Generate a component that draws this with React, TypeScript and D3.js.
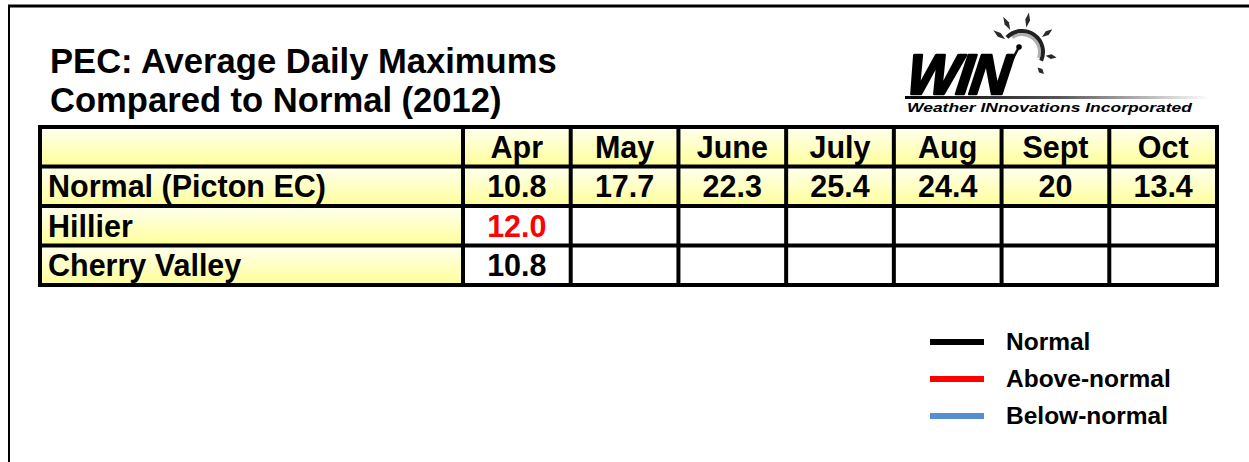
import * as d3 from 'd3';
import React from 'react';

const months = ['Apr', 'May', 'June', 'July', 'Aug', 'Sept', 'Oct'];
const normalPicton = ['10.8', '17.7', '22.3', '25.4', '24.4', '20', '13.4'];
const hillier = ['12.0', '', '', '', '', '', ''];
const cherryValley = ['10.8', '', '', '', '', '', ''];
const rowLabels = ['', 'Normal (Picton EC)', 'Hillier', 'Cherry Valley'];
const legendItems = ['Normal', 'Above-normal', 'Below-normal'];
const legendColors = ['#000000', '#ff0000', '#558ed5'];

const FONT = "'Liberation Sans', Arial, sans-serif";

export default function App() {
  const col = d3.scaleBand<string>().domain(months).range([463, 1217]);
  const row = d3.scaleBand<string>().domain(rowLabels).range([127, 285]);
  const legendY = d3.scalePoint<string>().domain(legendItems).range([342, 416]);

  const normalVal = (i: number) => +normalPicton[i];
  const cellColor = (v: string, i: number) => {
    if (!v) return '#000';
    const n = +v;
    if (n > normalVal(i)) return '#ff0000';
    if (n < normalVal(i)) return '#558ed5';
    return '#000';
  };

  const rows: string[][] = [months, normalPicton, hillier, cherryValley];

  // sun for the logo
  const sunC = [1022, 52];
  const arcOuter = d3.arc()({ innerRadius: 19, outerRadius: 23, startAngle: -0.8, endAngle: 2.0 } as any);
  const arcInner = d3.arc()({ innerRadius: 16, outerRadius: 19, startAngle: -0.6, endAngle: 1.9 } as any);
  // rays as [angle deg (math, y up), inner r, outer r]
  const rays = [
    [143, 21, 36],
    [118, 25, 40],
    [80, 25, 40],
    [37, 25, 38],
    [-9, 24, 35],
    [-45, 22, 31],
  ];
  const rayPath = (a: number, r0: number, r1: number) => {
    const t = (a * Math.PI) / 180;
    const ux = Math.cos(t), uy = -Math.sin(t);
    const px = -uy, py = ux;
    const rm = (r0 + r1) / 2;
    const w = 2.4;
    const p = (r: number, off: number) => [sunC[0] + ux * r + px * off, sunC[1] + uy * r + py * off];
    const pts = [p(r0, 0), p(rm, w), p(r1, 0), p(rm, -w)];
    return 'M' + pts.map((q) => q.join(',')).join('L') + 'Z';
  };

  const gridX = [40, ...months.map((m) => col(m)!), 1217];
  const gridY = [127, ...rowLabels.slice(1).map((r) => row(r)!), 285];

  return (
    <svg width={1249} height={462} style={{ position: 'absolute', left: 0, top: 0 }}>
      <defs>
        <linearGradient id="yel" x1="0" y1="0" x2="0" y2="1">
          <stop offset="0" stopColor="#fffff0" />
          <stop offset="1" stopColor="#ffff99" />
        </linearGradient>
        <linearGradient id="bar" x1="0" y1="0" x2="1" y2="0">
          <stop offset="0" stopColor="#000" />
          <stop offset="0.5" stopColor="#555" />
          <stop offset="1" stopColor="#fff" />
        </linearGradient>
      </defs>
      <rect width={1249} height={462} fill="#fff" />
      {/* frame */}
      <line x1={8} y1={6} x2={1249} y2={6} stroke="#000" strokeWidth={3} />
      <line x1={9} y1={5} x2={9} y2={462} stroke="#000" strokeWidth={2} />

      {/* title */}
      <text x={50} y={73} fontFamily={FONT} fontWeight="bold" fontSize={34.6} fill="#000">
        PEC: Average Daily Maximums
      </text>
      <text x={50} y={112} fontFamily={FONT} fontWeight="bold" fontSize={34.6} fill="#000">
        Compared to Normal (2012)
      </text>

      {/* logo */}
      <g>
        <path d={arcInner!} transform={`translate(${sunC[0]},${sunC[1]})`} fill="#b0b0b0" />
        <path d={arcOuter!} transform={`translate(${sunC[0]},${sunC[1]})`} fill="#222" />
        {rays.map((r, i) => (
          <path key={i} d={rayPath(r[0], r[1], r[2])} fill="#2a2a2a" />
        ))}
        <line x1={1019} y1={47} x2={1011} y2={62} stroke="#111" strokeWidth={2.5} />
        <circle cx={1019} cy={47} r={2.8} fill="#000" />
        <text
          x={0}
          y={0}
          fontFamily={FONT}
          fontWeight="bold"
          fontStyle="italic"
          fontSize={54}
          fill="#000"
          stroke="#000"
          strokeWidth={2.5}
          strokeLinejoin="round"
          transform="translate(905,94) scale(1.02,1.05) skewX(-8)"
          letterSpacing={-2}
        >
          WIN
        </text>
        <rect x={905} y={96} width={305} height={3} fill="url(#bar)" />
        <text x={907} y={112} fontFamily={FONT} fontWeight="bold" fontStyle="italic" fontSize={13.3} fill="#000" textLength={285} lengthAdjust="spacingAndGlyphs">
          Weather INnovations Incorporated
        </text>
      </g>

      {/* table cells */}
      {rowLabels.map((r, ri) => (
        <g key={ri}>
          <rect x={40} y={row(r)!} width={col('Apr')! - 40} height={row.bandwidth()} fill="url(#yel)" />
          {months.map((m) => (
            <rect
              key={m}
              x={col(m)!}
              y={row(r)!}
              width={col.bandwidth()}
              height={row.bandwidth()}
              fill={ri < 2 ? 'url(#yel)' : '#fff'}
            />
          ))}
          <text x={48} y={row(r)! + row.bandwidth() / 2 + 11} fontFamily={FONT} fontWeight="bold" fontSize={30.5} fill="#000">
            {r}
          </text>
          {rows[ri].map((v, ci) => (
            <text
              key={ci}
              x={col(months[ci])! + col.bandwidth() / 2}
              y={row(r)! + row.bandwidth() / 2 + 11}
              textAnchor="middle"
              fontFamily={FONT}
              fontWeight="bold"
              fontSize={30.5}
              fill={ri >= 2 ? cellColor(v, ci) : '#000'}
            >
              {v}
            </text>
          ))}
        </g>
      ))}

      {/* grid lines */}
      {gridX.map((x, i) => (
        <line key={'vx' + i} x1={x} y1={125} x2={x} y2={287} stroke="#000" strokeWidth={4} />
      ))}
      {gridY.map((y, i) => (
        <line key={'hy' + i} x1={38} y1={y} x2={1219} y2={y} stroke="#000" strokeWidth={4} />
      ))}

      {/* legend */}
      {legendItems.map((l, i) => (
        <g key={l}>
          <rect x={930} y={legendY(l)! - 3} width={54} height={6} fill={legendColors[i]} />
          <text x={1006} y={legendY(l)! + 8} fontFamily={FONT} fontWeight="bold" fontSize={24.5} fill="#000">
            {l}
          </text>
        </g>
      ))}
    </svg>
  );
}
